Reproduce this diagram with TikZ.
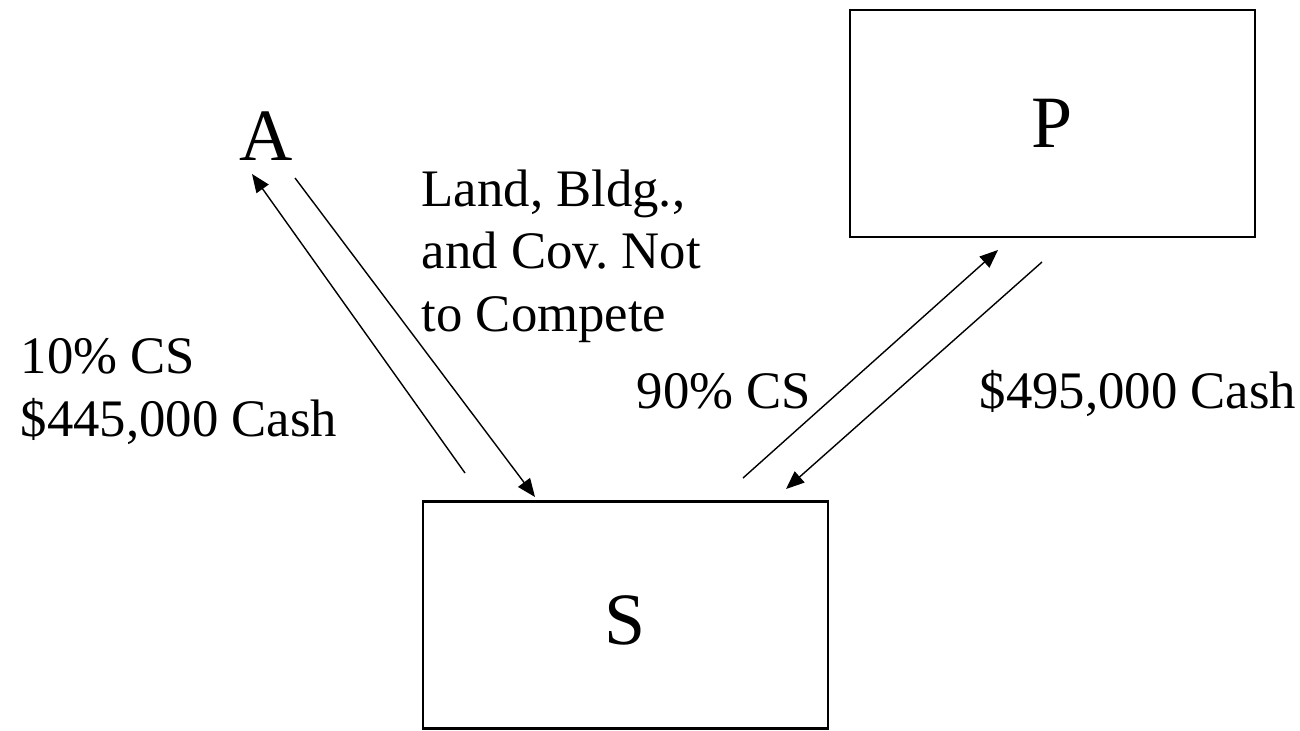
\documentclass[tikz,border=0pt]{standalone}
\usepackage{fontspec}
\setmainfont{Liberation Serif}
\usetikzlibrary{arrows.meta, positioning}
\frenchspacing

\begin{document}
\begin{tikzpicture}
		\tikzstyle{Box} = [rectangle, minimum width=4.05cm, minimum height=2.27cm, inner sep=0pt, text centered, draw=black, line width = 0.6pt, font=\fontsize{21}{25}\selectfont]
		\tikzstyle{Letter} = [inner sep=0pt, font=\fontsize{21}{25}\selectfont]
		\tikzstyle{Label} = [inner sep=0pt, align=left, font=\fontsize{15}{17.8}\selectfont]
		\tikzstyle{arrow} = [line width = 0.4pt, -{Triangle[length=5.2pt, width=4.2pt]}]
		
		\useasboundingbox (0,0) rectangle (13,7.3);
		
		\node (P) [Box] at (10.525,6.065) {P};
		\node (S) [Box] at (6.255,1.15) {};
		\node (Sname) [Letter, anchor=base] at (6.255,0.86) {S};
		\node (A) [Letter, anchor=base] at (2.665,5.69) {A};
		
		\node (land) [Label, anchor=north west] at (4.21,5.61) {Land, Bldg.,\\and Cov. Not\\to Compete};
		\node (tenpct) [Label, anchor=north west] at (0.20,3.92) {10\% CS\\\$445,000 Cash};
		\node (ninetypct) [Label, anchor=base west] at (6.36,3.22) {90\% CS};
		\node (cash) [Label, anchor=base west] at (9.79,3.22) {\$495,000 Cash};
		
		\coordinate (s1) at (4.65,2.57);
		\coordinate (a1) at (2.52,5.56);
		\coordinate (a2) at (2.95,5.52);
		\coordinate (s2) at (5.35,2.33);
		\coordinate (s3) at (7.43,2.52);
		\coordinate (p3) at (9.98,4.80);
		\coordinate (p4) at (10.42,4.68);
		\coordinate (s4) at (7.86,2.41);
		
		\draw [arrow] (s1) -- (a1);
		\draw [arrow] (a2) -- (s2);
		\draw [arrow] (s3) -- (p3);
		\draw [arrow] (p4) -- (s4);
		
		\end{tikzpicture}
\end{document}
